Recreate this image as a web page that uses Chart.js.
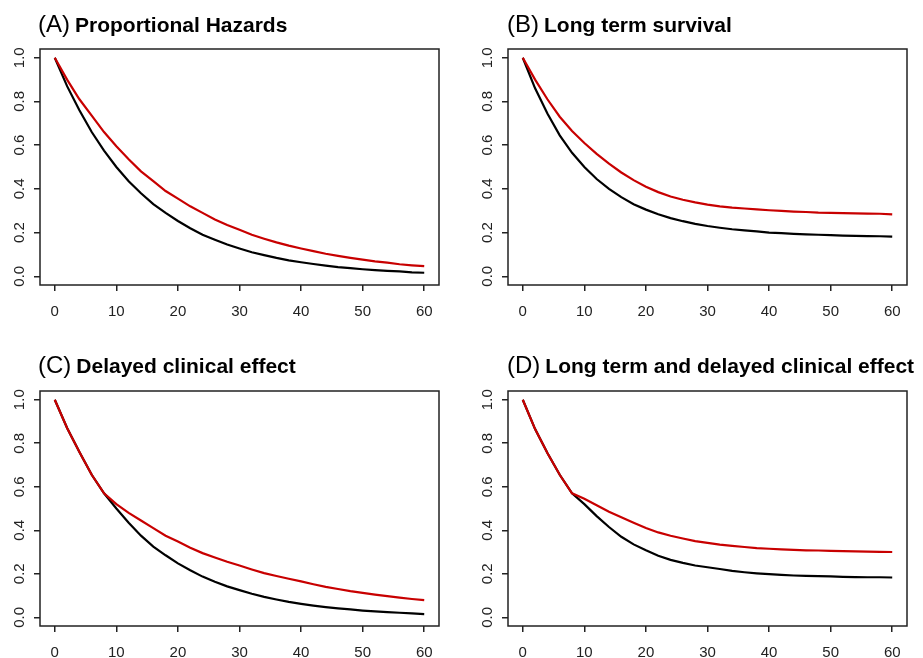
<!DOCTYPE html>
<html>
<head>
<meta charset="utf-8">
<script src="https://cdn.jsdelivr.net/npm/chart.js@4.4.1/dist/chart.umd.min.js"></script>
<style>
  html, body { margin: 0; padding: 0; background: #fff; }
  #wrap { position: relative; width: 923px; height: 658px; overflow: hidden; }
  .panel { position: absolute; }
</style>
</head>
<body>
<div id="wrap">
  <div class="panel" style="left:0;top:0;width:461px;height:330px"><canvas id="chartA"></canvas></div>
  <div class="panel" style="left:461px;top:0;width:462px;height:330px"><canvas id="chartB"></canvas></div>
  <div class="panel" style="left:0;top:330px;width:461px;height:328px"><canvas id="chartC"></canvas></div>
  <div class="panel" style="left:461px;top:330px;width:462px;height:328px"><canvas id="chartD"></canvas></div>
</div>
<script>
// months (read every 2 months off the curves)
const months = [0, 2, 4, 6, 8, 10, 12, 14, 16, 18, 20, 22, 24, 26, 28, 30,
                32, 34, 36, 38, 40, 42, 44, 46, 48, 50, 52, 54, 56, 58, 60];
const xTicks = [0, 10, 20, 30, 40, 50, 60];
const yTicks = [0, 0.2, 0.4, 0.6, 0.8, 1.0];

// (A) Proportional Hazards
const controlA = [1.0, 0.87, 0.76, 0.66, 0.575, 0.50, 0.435, 0.38, 0.33, 0.29, 0.253, 0.22, 0.19, 0.167, 0.145, 0.127,
                  0.11, 0.097, 0.084, 0.073, 0.064, 0.056, 0.049, 0.042, 0.037, 0.032, 0.028, 0.025, 0.022, 0.018, 0.016];
const treatedA = [1.0, 0.90, 0.81, 0.735, 0.66, 0.595, 0.535, 0.48, 0.435, 0.39, 0.355, 0.32, 0.29, 0.26, 0.235, 0.213,
                  0.19, 0.172, 0.155, 0.14, 0.127, 0.115, 0.103, 0.093, 0.084, 0.076, 0.068, 0.062, 0.055, 0.05, 0.046];

// (B) Long term survival
const controlB = [1.0, 0.86, 0.745, 0.645, 0.565, 0.50, 0.445, 0.40, 0.362, 0.33, 0.305, 0.284, 0.266, 0.252, 0.24, 0.23,
                  0.222, 0.215, 0.21, 0.205, 0.20, 0.197, 0.194, 0.192, 0.19, 0.188, 0.186, 0.185, 0.184, 0.183, 0.181];
const treatedB = [1.0, 0.90, 0.81, 0.73, 0.665, 0.61, 0.56, 0.515, 0.475, 0.44, 0.41, 0.385, 0.365, 0.35, 0.338, 0.328,
                  0.32, 0.314, 0.31, 0.306, 0.302, 0.299, 0.296, 0.294, 0.291, 0.29, 0.289, 0.288, 0.287, 0.286, 0.283];

// (C) Delayed clinical effect
const controlC = [1.0, 0.87, 0.76, 0.655, 0.57, 0.50, 0.435, 0.375, 0.325, 0.285, 0.248, 0.216, 0.187, 0.163, 0.142, 0.125,
                  0.108, 0.094, 0.082, 0.071, 0.062, 0.054, 0.047, 0.041, 0.036, 0.031, 0.027, 0.024, 0.021, 0.018, 0.015];
const treatedC = [1.0, 0.87, 0.76, 0.655, 0.57, 0.52, 0.48, 0.445, 0.41, 0.375, 0.348, 0.32, 0.295, 0.275, 0.255, 0.238,
                  0.22, 0.203, 0.19, 0.177, 0.165, 0.152, 0.14, 0.13, 0.12, 0.112, 0.104, 0.097, 0.09, 0.084, 0.079];

// (D) Long term and delayed clinical effect
const controlD = [1.0, 0.865, 0.755, 0.655, 0.57, 0.52, 0.465, 0.415, 0.37, 0.335, 0.308, 0.283, 0.264, 0.25, 0.238, 0.23,
                  0.222, 0.213, 0.207, 0.202, 0.198, 0.195, 0.192, 0.19, 0.189, 0.188, 0.186, 0.185, 0.184, 0.184, 0.183];
const treatedD = [1.0, 0.865, 0.755, 0.655, 0.57, 0.545, 0.515, 0.485, 0.46, 0.435, 0.41, 0.39, 0.375, 0.362, 0.35, 0.342,
                  0.334, 0.328, 0.323, 0.318, 0.315, 0.312, 0.31, 0.308, 0.307, 0.305, 0.304, 0.303, 0.302, 0.301, 0.30];

const FONT = '"Liberation Sans", Arial, sans-serif';
const RED = '#c80000';

// box around the plot + "(A) Title" heading
const frame = {
  id: 'frame',
  afterDraw(chart, args, opts) {
    const { ctx, chartArea: a } = chart;
    ctx.save();
    ctx.strokeStyle = '#222';
    ctx.lineWidth = 1.5;
    ctx.strokeRect(a.left, a.top, a.right - a.left, a.bottom - a.top);
    ctx.fillStyle = '#000';
    ctx.textBaseline = 'alphabetic';
    ctx.font = '24px ' + FONT;
    ctx.fillText(opts.tag, opts.x, opts.y);
    const w = ctx.measureText(opts.tag).width;
    ctx.font = 'bold 21px ' + FONT;
    ctx.fillText(opts.text, opts.x + w + 5, opts.y);
    ctx.restore();
  }
};

const toPts = arr => months.map((m, i) => ({ x: m, y: arr[i] }));

function makePanel(id, tag, text, control, treated, g) {
  new Chart(document.getElementById(id), {
    type: 'line',
    data: {
      datasets: [
        // red drawn over black
        { data: toPts(treated), borderColor: RED, borderWidth: 2.2, pointRadius: 0, tension: 0, order: 0 },
        { data: toPts(control), borderColor: '#000', borderWidth: 2.2, pointRadius: 0, tension: 0, order: 1 }
      ]
    },
    options: {
      responsive: true,
      maintainAspectRatio: false,
      animation: false,
      layout: { padding: { top: g.top, right: g.right, left: 0, bottom: 0 } },
      plugins: {
        legend: { display: false },
        tooltip: { enabled: false },
        frame: { tag: tag, text: text, x: g.tx, y: g.ty }
      },
      scales: {
        x: {
          type: 'linear', min: -2.4, max: 62.4,
          afterBuildTicks: s => { s.ticks = xTicks.map(v => ({ value: v })); },
          afterFit: s => { s.height = g.xh; },
          grid: { drawOnChartArea: false, drawTicks: true, tickLength: 6, color: '#222', lineWidth: 1.5 },
          border: { display: false },
          ticks: { font: { size: 15, family: FONT }, color: '#222', padding: 12, maxRotation: 0, autoSkip: false }
        },
        y: {
          type: 'linear', min: -0.04, max: 1.04,
          afterBuildTicks: s => { s.ticks = yTicks.map(v => ({ value: v })); },
          afterFit: s => { s.width = g.yw; },
          grid: { drawOnChartArea: false, drawTicks: true, tickLength: 6, color: '#222', lineWidth: 1.5 },
          border: { display: false },
          ticks: {
            font: { size: 15, family: FONT }, color: '#222', padding: 4,
            minRotation: 90, maxRotation: 90, crossAlign: 'center', autoSkip: false,
            callback: v => v.toFixed(1)
          }
        }
      }
    },
    plugins: [frame]
  });
}

makePanel('chartA', '(A)', 'Proportional Hazards', controlA, treatedA,
  { top: 49, right: 22, xh: 45, yw: 40, tx: 38, ty: 32 });
makePanel('chartB', '(B)', 'Long term survival', controlB, treatedB,
  { top: 49, right: 16, xh: 45, yw: 47, tx: 46, ty: 32 });
makePanel('chartC', '(C)', 'Delayed clinical effect', controlC, treatedC,
  { top: 61, right: 22, xh: 32, yw: 40, tx: 38, ty: 43 });
makePanel('chartD', '(D)', 'Long term and delayed clinical effect', controlD, treatedD,
  { top: 61, right: 16, xh: 32, yw: 47, tx: 46, ty: 43 });
</script>
</body>
</html>
